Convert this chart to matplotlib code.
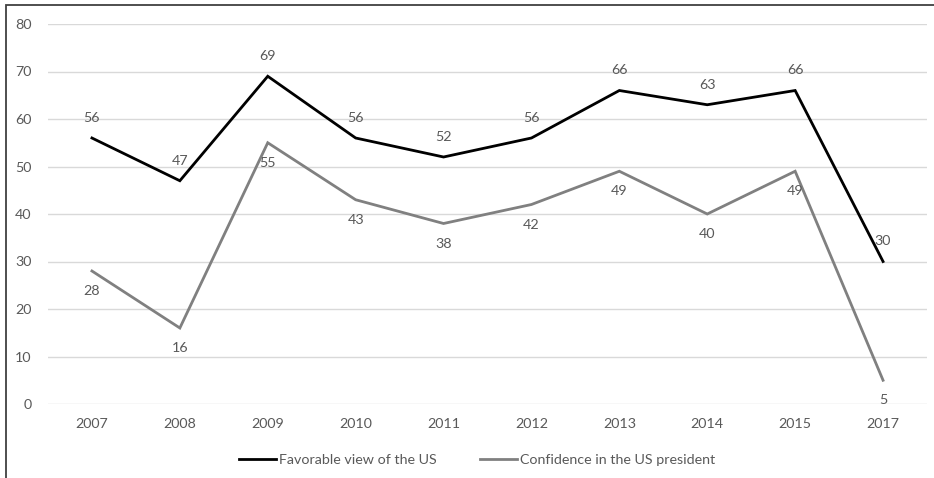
import matplotlib
matplotlib.use('Agg')
import matplotlib.pyplot as plt
from matplotlib.patches import Rectangle

years = ['2007','2008','2009','2010','2011','2012','2013','2014','2015','2017']
favorable = [56,47,69,56,52,56,66,63,66,30]
confidence = [28,16,55,43,38,42,49,40,49,5]

plt.rcParams['font.family'] = ['Lato', 'DejaVu Sans']
txtcol = '#595959'
fs = 10.3

W, H = 934, 478
fig = plt.figure(figsize=(W/100, H/100), dpi=100)
ax = fig.add_axes([48/W, 74/H, (927-48)/W, 380/H])

x = list(range(len(years)))
ax.plot(x, favorable, color='black', lw=2.0, label='Favorable view of the US', solid_joinstyle='miter')
ax.plot(x, confidence, color='#808080', lw=2.0, label='Confidence in the US president', solid_joinstyle='miter')

for i in x:
    ax.annotate(str(favorable[i]), (i, favorable[i]), xytext=(0, 14.5), textcoords='offset points',
                ha='center', va='center', fontsize=fs, color=txtcol)
    ax.annotate(str(confidence[i]), (i, confidence[i]), xytext=(0, -14.5), textcoords='offset points',
                ha='center', va='center', fontsize=fs, color=txtcol)

ax.set_xlim(-0.5, len(years)-0.5)
ax.set_ylim(0, 80)
ax.set_yticks(range(0, 81, 10))
ax.set_xticks(x)
ax.set_xticklabels(years)
ax.grid(axis='y', color='#d9d9d9', lw=1)
ax.set_axisbelow(True)
for s in ax.spines.values():
    s.set_visible(False)
ax.tick_params(length=0, labelsize=fs, labelcolor=txtcol)
ax.tick_params(axis='y', pad=12)
ax.tick_params(axis='x', pad=10)

leg = fig.legend(loc='center', bbox_to_anchor=(477/W, 1-460/H), ncol=2, frameon=False,
                 fontsize=fs, handlelength=2.6, handletextpad=0.2, columnspacing=3.0)
for t in leg.get_texts():
    t.set_color(txtcol)

fig.patches.append(Rectangle((6/W, -0.1), 1.2, 1 - 5/H + 0.1, transform=fig.transFigure,
                             fill=False, edgecolor='#404040', lw=1.3))

fig.savefig('out.png', dpi=100)
